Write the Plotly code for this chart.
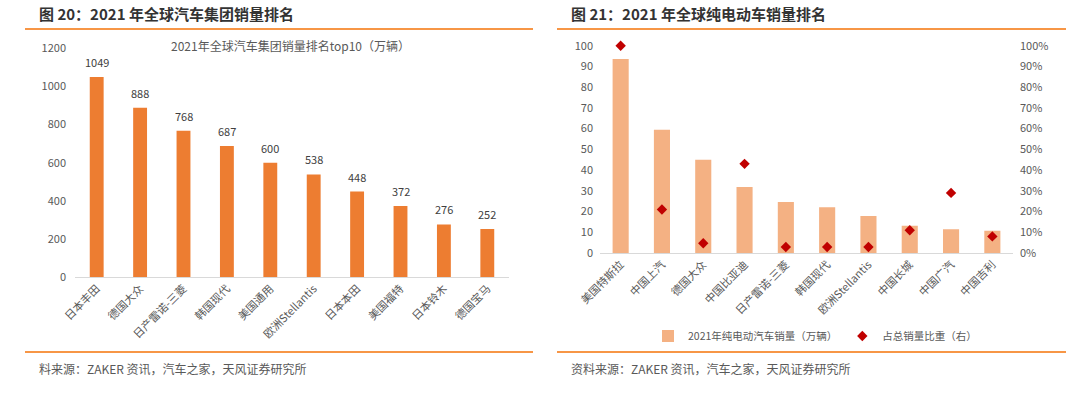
import plotly.graph_objects as go

W, H = 1080, 396
OFF = 0  # body margin removed via post_script

# ---- data ----
groups = ["日本丰田", "德国大众", "日产雷诺-三菱", "韩国现代", "美国通用",
          "欧洲Stellantis", "日本本田", "美国福特", "日本铃木", "德国宝马"]
group_sales = [1049, 888, 768, 687, 600, 538, 448, 372, 276, 252]

ev_makers = ["美国特斯拉", "中国上汽", "德国大众", "中国比亚迪", "日产雷诺-三菱",
             "韩国现代", "欧洲Stellantis", "中国长城", "中国广汽", "中国吉利"]
ev_sales = [93.6, 59.4, 45.0, 31.8, 24.6, 22.1, 17.8, 13.1, 11.5, 10.7]
ev_share = [1.00, 0.21, 0.047, 0.43, 0.029, 0.029, 0.029, 0.11, 0.29, 0.08]

FONT = "Noto Sans CJK SC"
GRAY = "#595959"
ORANGE_LINE = "#F79646"


def fx(px):
    return (px - OFF) / W


def fy(py):
    return 1 - (py - OFF) / H


fig = go.Figure()

# left chart
fig.add_trace(go.Bar(
    x=groups, y=group_sales, xaxis="x", yaxis="y",
    marker=dict(color="#ED7D31", line=dict(width=0)),
    width=0.32, showlegend=False, hoverinfo="x+y"))

for g, v in zip(groups, group_sales):
    fig.add_annotation(x=g, y=v, xref="x", yref="y", text=str(v),
                       showarrow=False, yshift=15,
                       font=dict(size=11, color="#404040", family=FONT))

# right chart
fig.add_trace(go.Bar(
    x=ev_makers, y=ev_sales, xaxis="x2", yaxis="y2",
    name="2021年纯电动汽车销量（万辆）",
    marker=dict(color="#F4B183", line=dict(width=0)),
    width=0.39, showlegend=True))
fig.add_trace(go.Scatter(
    x=ev_makers, y=ev_share, xaxis="x2", yaxis="y3",
    name="占总销量比重（右）", mode="markers",
    marker=dict(symbol="diamond", color="#C00000", size=8),
    cliponaxis=False, showlegend=True))

axfont = dict(size=11, color=GRAY, family=FONT)

fig.update_layout(
    width=W, height=H,
    margin=dict(l=0, r=0, t=0, b=0, pad=0, autoexpand=False),
    paper_bgcolor="white", plot_bgcolor="rgba(0,0,0,0)",
    font=dict(family=FONT, color=GRAY),
    barmode="overlay",
    xaxis=dict(domain=[fx(75), fx(509)], anchor="y", type="category",
               range=[-0.5, 9.5], tickangle=-45, tickfont=axfont,
               showline=True, linecolor="#D9D9D9", linewidth=1,
               ticks="", showgrid=False, automargin=False),
    yaxis=dict(domain=[fy(277), fy(48.3)], anchor="x", range=[0, 1200],
               dtick=200, tickfont=axfont, showgrid=False, zeroline=False,
               showline=False, ticks="", ticklabelstandoff=8,
               automargin=False),
    xaxis2=dict(domain=[fx(600), fx(1013)], anchor="y2", type="category",
                range=[-0.5, 9.5], tickangle=-45, tickfont=axfont,
                showline=True, linecolor="#D9D9D9", linewidth=1,
                ticks="", showgrid=False, automargin=False),
    yaxis2=dict(domain=[fy(253), fy(45.7)], anchor="x2", range=[0, 100],
                dtick=10, tickfont=axfont, showgrid=False, zeroline=False,
                showline=False, ticks="", ticklabelstandoff=6,
                automargin=False),
    yaxis3=dict(overlaying="y2", side="right", anchor="x2", range=[0, 1],
                dtick=0.1, tickformat=".0%", tickfont=axfont,
                showgrid=False, zeroline=False, showline=False, ticks="",
                ticklabelstandoff=6, automargin=False),
    legend=dict(orientation="h", x=fx(815), xanchor="center",
                y=fy(336), yanchor="middle",
                font=dict(size=10.5, color=GRAY, family=FONT),
                itemwidth=30, tracegroupgap=0, bgcolor="rgba(0,0,0,0)"),
)

# titles
fig.add_annotation(x=fx(37), y=fy(13), xref="paper", yref="paper",
                   xanchor="left", yanchor="middle", showarrow=False,
                   text="<b>图 20：2021 年全球汽车集团销量排名</b>",
                   font=dict(size=15, color="#333333", family=FONT))
fig.add_annotation(x=fx(569), y=fy(13), xref="paper", yref="paper",
                   xanchor="left", yanchor="middle", showarrow=False,
                   text="<b>图 21：2021 年全球纯电动车销量排名</b>",
                   font=dict(size=15, color="#333333", family=FONT))
fig.add_annotation(x=fx(290), y=fy(46), xref="paper", yref="paper",
                   xanchor="center", yanchor="middle", showarrow=False,
                   text="2021年全球汽车集团销量排名top10（万辆）",
                   font=dict(size=12, color=GRAY, family=FONT))
# footers
fig.add_annotation(x=fx(37), y=fy(368), xref="paper", yref="paper",
                   xanchor="left", yanchor="middle", showarrow=False,
                   text="料来源：ZAKER 资讯，汽车之家，天风证券研究所",
                   font=dict(size=12, color=GRAY, family=FONT))
fig.add_annotation(x=fx(569), y=fy(368), xref="paper", yref="paper",
                   xanchor="left", yanchor="middle", showarrow=False,
                   text="资料来源：ZAKER 资讯，汽车之家，天风证券研究所",
                   font=dict(size=12, color=GRAY, family=FONT))

# orange rules
for (x0, x1) in [(25, 533), (557, 1066)]:
    for yy in (29, 352):
        fig.add_shape(type="line", xref="paper", yref="paper",
                      x0=fx(x0), x1=fx(x1), y0=fy(yy), y1=fy(yy),
                      line=dict(color=ORANGE_LINE, width=2))

fig.write_html("out.html",
               config={"displayModeBar": False},
               post_script="document.body.style.margin='0px';"
                           "document.body.style.overflow='hidden';")
